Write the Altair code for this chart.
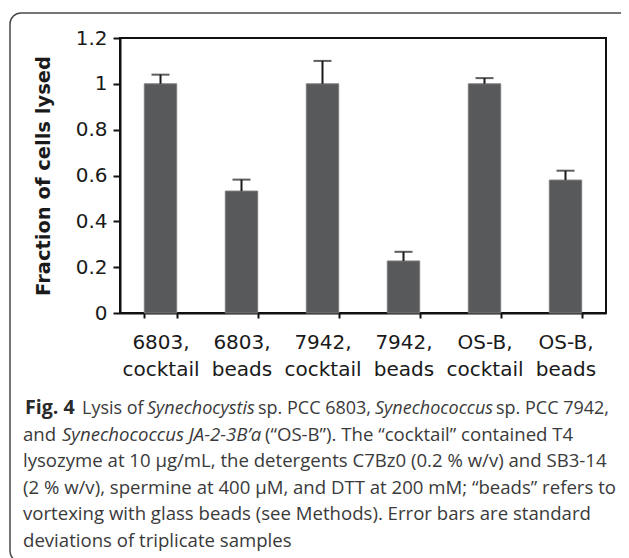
import altair as alt
import pandas as pd

# ---- data ----
categories = ["6803, cocktail", "6803, beads", "7942, cocktail",
              "7942, beads", "OS-B, cocktail", "OS-B, beads"]
fraction_lysed = [1.00, 0.532, 1.00, 0.227, 1.00, 0.580]
std_dev = [0.040, 0.050, 0.100, 0.040, 0.025, 0.041]
y_ticks = [0, 0.2, 0.4, 0.6, 0.8, 1.0, 1.2]

df = pd.DataFrame({"cat": categories, "val": fraction_lysed, "sd": std_dev})
df["top"] = df["val"] + df["sd"]

# ---- layout (page pixels) ----
PLOT_LEFT, PLOT_TOP = 120, 38
W, H = 486, 275
SVG_W, SVG_H = 613, 550


def px(x):
    return x - PLOT_LEFT


def py(y):
    return y - PLOT_TOP


xenc = alt.X("cat:N", sort=categories, title=None,
             scale=alt.Scale(paddingInner=0.6, paddingOuter=0.3),
             axis=alt.Axis(labelAngle=0, tickBand="extent", tickSize=5,
                           labelExpr="split(datum.label, ' ')",
                           labelLineHeight=27, labelPadding=14,
                           labelBaseline="top"))
yscale = alt.Scale(domain=[0, 1.2], nice=False)

bars = alt.Chart(df).mark_bar(color="#58595b", stroke="#7c7d7f",
                              strokeWidth=1).encode(
    x=xenc,
    y=alt.Y("val:Q", scale=yscale,
            axis=alt.Axis(values=y_ticks, format=".1~f", tickSize=7,
                          labelPadding=6, title="Fraction of cells lysed",
                          titleX=-77, titleY=H / 2, titleAngle=-90,
                          titleAlign="center", titleBaseline="middle",
                          titleFont="DejaVu Sans", titleFontSize=19.5,
                          titleFontWeight="bold", titleColor="#1a1a1a")),
)

err = alt.Chart(df).mark_rule(color="#1a1a1a", strokeWidth=2).encode(
    x=alt.X("cat:N", sort=categories),
    y=alt.Y("val:Q", scale=yscale),
    y2="top:Q",
)
cap = alt.Chart(df).mark_tick(color="#1a1a1a", thickness=2, size=18).encode(
    x=alt.X("cat:N", sort=categories),
    y=alt.Y("top:Q", scale=yscale),
)

one = pd.DataFrame({"k": [0]})
box = alt.Chart(one).mark_rect(fill=None, stroke="#4a4a4a", strokeWidth=1.5,
                               cornerRadius=11).encode(
    x=alt.value(px(10)), x2=alt.value(px(680)),
    y=alt.value(py(13)), y2=alt.value(py(562)),
)

# caption segments: (line, x start, text, style)
caption_segments = [
    (0, 25, "Fig. 4", "bold"),
    (0, 82, "Lysis of", "normal"),
    (0, 147, "Synechocystis", "italic"),
    (0, 258, "sp. PCC 6803,", "normal"),
    (0, 375, "Synechococcus", "italic"),
    (0, 496, "sp. PCC 7942,", "normal"),
    (1, 23, "and", "normal"),
    (1, 62, "Synechococcus JA-2-3B\u2019a", "italic"),
    (1, 265, "(\u201cOS-B\u201d). The \u201ccocktail\u201d contained T4", "normal"),
    (2, 23, "lysozyme at 10 \u00b5g/mL, the detergents C7Bz0 (0.2 % w/v) and SB3-14", "normal"),
    (3, 23, "(2 % w/v), spermine at 400 \u00b5M, and DTT at 200 mM; \u201cbeads\u201d refers to", "normal"),
    (4, 23, "vortexing with glass beads (see Methods). Error bars are standard", "normal"),
    (5, 23, "deviations of triplicate samples", "normal"),
]
BASE0, LINE_H = 414, 26.6

caption_layers = []
for line, x0, txt, style in caption_segments:
    kw = dict(text=txt, align="left", baseline="alphabetic",
              font="Open Sans", fontSize=18.0 if line == 0 else 18.6,
              color="#3a3a3a")
    if style == "bold":
        kw["fontWeight"] = "bold"
        kw["fontSize"] = 19.6
        kw["color"] = "#2a2a2a"
    if style == "italic":
        kw["fontStyle"] = "italic"
    caption_layers.append(
        alt.Chart(one).mark_text(**kw).encode(
            x=alt.value(px(x0)), y=alt.value(py(BASE0 + line * LINE_H)))
    )

chart = alt.layer(box, bars, err, cap, *caption_layers).properties(
    width=W, height=H,
    padding={"left": PLOT_LEFT - 8, "top": PLOT_TOP - 8,
             "right": SVG_W - (PLOT_LEFT - 8) - W,
             "bottom": SVG_H - (PLOT_TOP - 8) - H},
    autosize=alt.AutoSizeParams(type="none"),
).configure_view(stroke="#111111", strokeWidth=2).configure_axis(
    domainColor="#111111", domainWidth=2, tickColor="#111111", tickWidth=2,
    grid=False, labelFont="DejaVu Sans", labelFontSize=20,
    labelColor="#1a1a1a",
)

chart.save("out.html", embed_options={"renderer": "svg", "actions": False})
